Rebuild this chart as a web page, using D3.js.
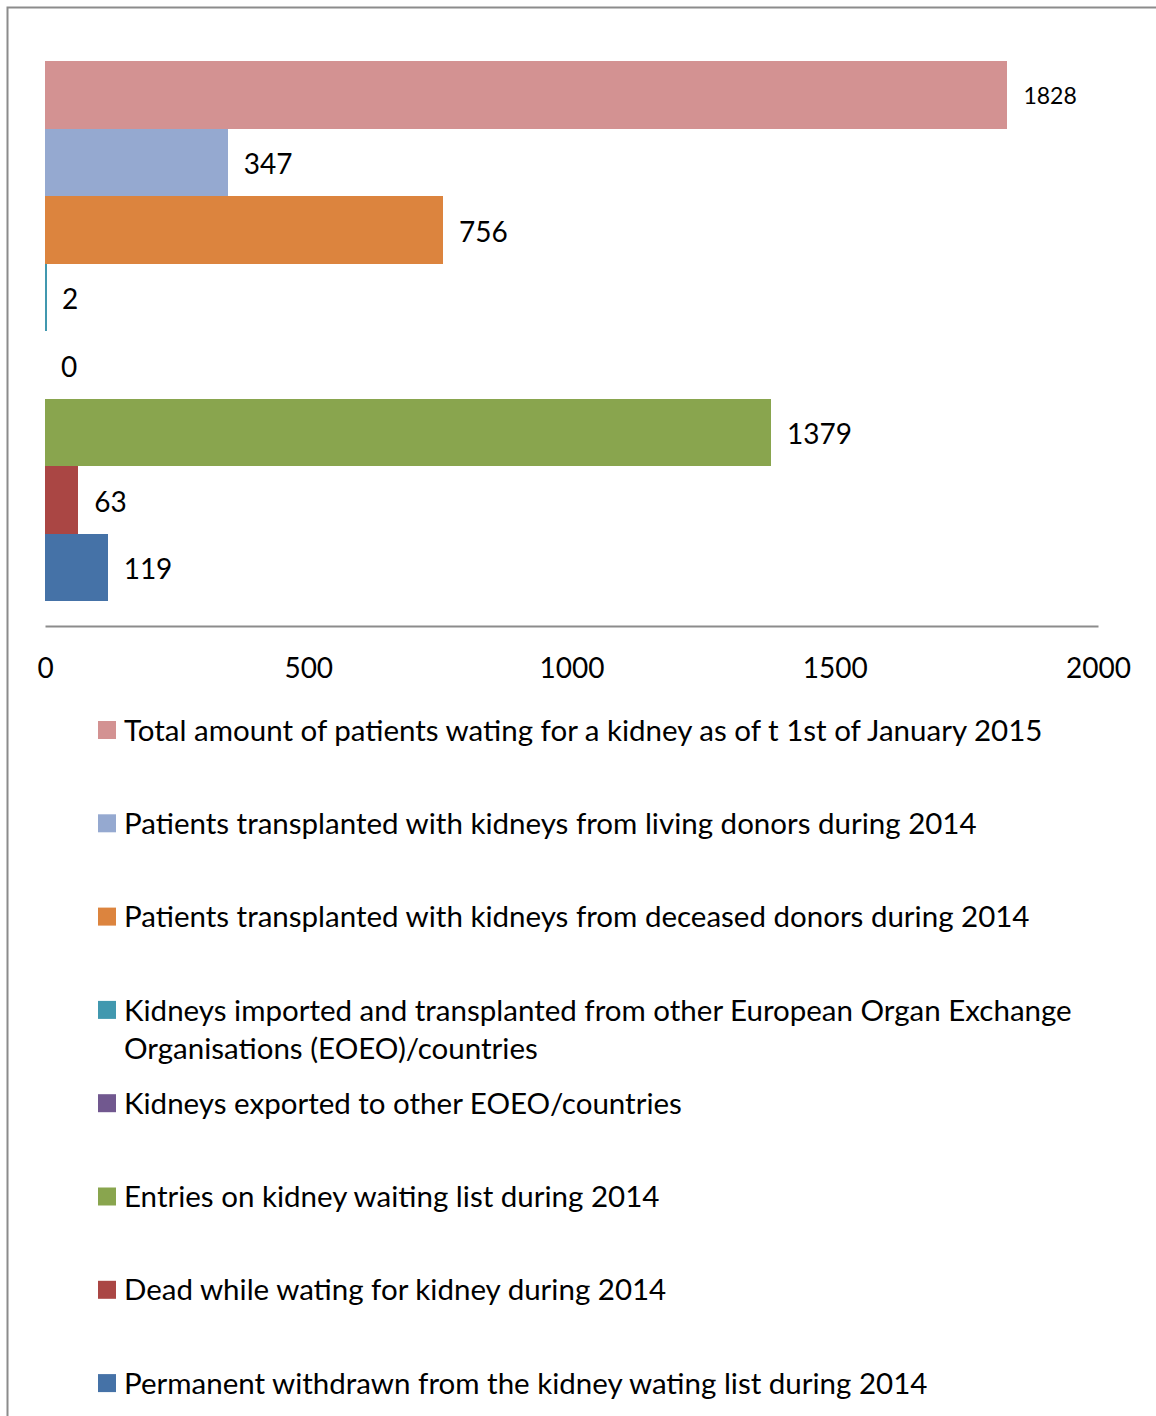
<!DOCTYPE html>
<html>
<head>
<meta charset="utf-8">
<script src="https://cdn.jsdelivr.net/npm/d3@7"></script>
<style>
  body { margin: 0; background: #fff; }
  text { font-family: Lato, "Noto Sans", sans-serif; fill: #000; }
</style>
</head>
<body>
<div id="chart"></div>
<script>
// series names (top to bottom), values and colours
const seriesNames = [
    "Total amount of patients wating for a kidney as of t 1st of January 2015",
    "Patients transplanted with kidneys from living donors during 2014",
    "Patients transplanted with kidneys from deceased donors during 2014",
    "Kidneys imported and transplanted from other European Organ Exchange Organisations (EOEO)/countries",
    "Kidneys exported to other EOEO/countries",
    "Entries on kidney waiting list during 2014",
    "Dead while wating for kidney during 2014",
    "Permanent withdrawn from the kidney wating list during 2014"
];
const seriesValues = [1828, 347, 756, 2, 0, 1379, 63, 119];
const seriesColors = ["#d39292", "#95a9d0", "#dc843e", "#4198af", "#71588f", "#89a54e", "#aa4644", "#4572a7"];
const xTicks = [0, 500, 1000, 1500, 2000];

const width = 1156, height = 1416;
const svg = d3.select("#chart").append("svg").attr("width", width).attr("height", height);

// 外框
svg.append("rect").attr("x", 7.5).attr("y", 7.5).attr("width", width + 10).attr("height", height + 10)
    .attr("fill", "none").attr("stroke", "#8c8c8c").attr("stroke-width", 2);

const x = d3.scaleLinear().domain([0, 2000]).range([45, 1098]);
const y = d3.scaleBand().domain(seriesNames).range([61, 601]).padding(0);

// bars
svg.append("g").attr("shape-rendering", "crispEdges")
    .selectAll("rect").data(seriesNames).enter().append("rect")
    .attr("x", x(0)).attr("y", d => y(d))
    .attr("width", (d, i) => Math.max(0, x(seriesValues[i]) - x(0)) > 0 ? Math.max(2, x(seriesValues[i]) - x(0)) : 0)
    .attr("height", y.bandwidth())
    .attr("fill", (d, i) => seriesColors[i]);

// value labels
svg.append("g").selectAll("text").data(seriesNames).enter().append("text")
    .attr("x", (d, i) => x(seriesValues[i]) + 16)
    .attr("y", d => y(d) + y.bandwidth() / 2)
    .attr("dy", "0.42em")
    .attr("font-size", (d, i) => i == 0 ? 23 : 28)
    .text((d, i) => seriesValues[i]);

// axis
const axis = svg.append("g").attr("transform", "translate(0,626)")
    .call(d3.axisBottom(x).tickValues(xTicks).tickSize(0).tickPadding(32).tickFormat(d3.format("d")));
axis.select(".domain").attr("stroke", "#8c8c8c").attr("stroke-width", 2);
axis.selectAll("text").attr("font-size", 28).attr("font-family", "Lato, sans-serif").attr("fill", "#000");

// legend
const legendTop = 730, legendStep = 93.3, legendMax = 975;
const legend = svg.append("g").selectAll("g").data(seriesNames).enter().append("g")
    .attr("transform", (d, i) => "translate(98," + (legendTop + i * legendStep) + ")");
legend.append("rect").attr("x", 0).attr("y", -9).attr("width", 18).attr("height", 18)
    .attr("fill", (d, i) => seriesColors[i]);
legend.append("text").attr("x", 26).attr("y", 0).attr("font-size", 29.5)
    .each(function(d) {
        // wrap long labels
        let t = d3.select(this);
        let words = d.split(" ");
        let line = [];
        let tspan = t.append("tspan").attr("x", 26).attr("dy", "0.36em");
        for (let w of words) {
            line.push(w);
            tspan.text(line.join(" "));
            if (tspan.node().getComputedTextLength() > legendMax && line.length > 1) {
                line.pop();
                tspan.text(line.join(" "));
                line = [w];
                tspan = t.append("tspan").attr("x", 26).attr("dy", "1.32em").text(w);
            }
        }
    });
</script>
</body>
</html>
